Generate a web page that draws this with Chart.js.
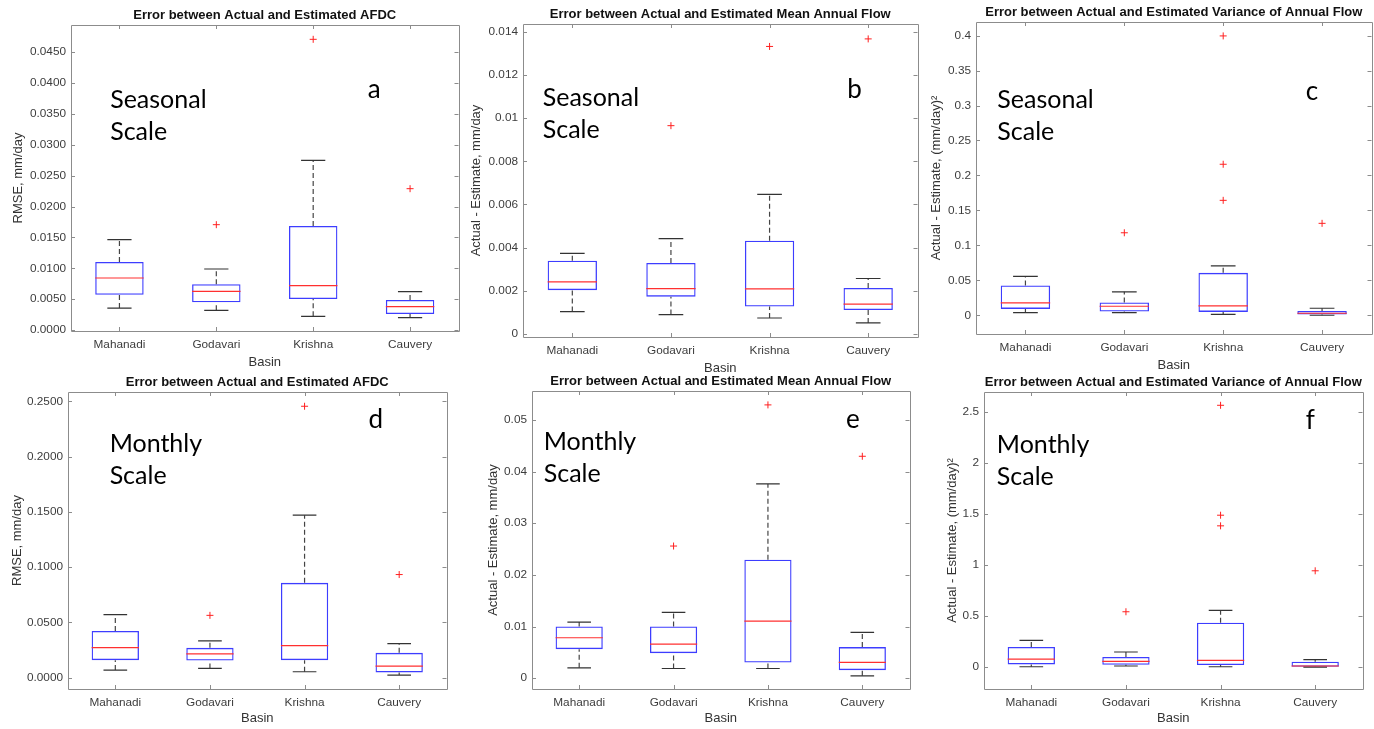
<!DOCTYPE html>
<html>
<head>
<meta charset="utf-8">
<script src="https://cdn.jsdelivr.net/npm/chart.js@4.4.1/dist/chart.umd.min.js"></script>
<style>
  html, body { margin:0; padding:0; background:#fff; overflow:hidden; width:1374px; height:729px; }
  canvas { position:absolute; }
</style>
</head>
<body>
<canvas id="pa"></canvas>
<canvas id="pb"></canvas>
<canvas id="pc"></canvas>
<canvas id="pd"></canvas>
<canvas id="pe"></canvas>
<canvas id="pf"></canvas>
<script>
// ---------------- DATA ----------------
const categories = ['Mahanadi', 'Godavari', 'Krishna', 'Cauvery'];

// (a) Seasonal AFDC RMSE
const aUpper = [0.01463, 0.00988, 0.02748, 0.00621];
const aQ3    = [0.01102, 0.00740, 0.01685, 0.00486];
const aMed   = [0.00842, 0.00626, 0.00718, 0.00378];
const aQ1    = [0.00572, 0.00448, 0.00502, 0.00259];
const aLower = [0.00356, 0.00319, 0.00221, 0.00200];
const aOut   = [[], [0.01706], [0.04708], [0.02289]];
const aTicks = [0, 0.005, 0.010, 0.015, 0.020, 0.025, 0.030, 0.035, 0.040, 0.045];
const aRange = [-0.00016, 0.0494];

// (b) Seasonal mean annual flow
const bUpper = [0.00373, 0.00442, 0.00647, 0.00257];
const bQ3    = [0.00339, 0.00329, 0.00432, 0.00213];
const bMed   = [0.00241, 0.00210, 0.00209, 0.00138];
const bQ1    = [0.00203, 0.00173, 0.00127, 0.00111];
const bLower = [0.00104, 0.00090, 0.00074, 0.00051];
const bOut   = [[], [0.00965], [0.01332], [0.01367]];
const bTicks = [0, 0.002, 0.004, 0.006, 0.008, 0.010, 0.012, 0.014];
const bRange = [-0.00014, 0.01436];

// (c) Seasonal variance of annual flow
const cUpper = [0.0555, 0.0335, 0.0707, 0.0100];
const cQ3    = [0.0425, 0.0182, 0.0607, 0.0062];
const cMed   = [0.0177, 0.0129, 0.0134, 0.0029];
const cQ1    = [0.0091, 0.0053, 0.0048, 0.0010];
const cLower = [0.0038, 0.0038, 0.0014, 0.0000];
const cOut   = [[], [0.118], [0.3996, 0.216, 0.1644], [0.1315]];
const cTicks = [0, 0.05, 0.1, 0.15, 0.2, 0.25, 0.3, 0.35, 0.4];
const cRange = [-0.0268, 0.4195];

// (d) Monthly AFDC RMSE
const dUpper = [0.0570, 0.0333, 0.1470, 0.0309];
const dQ3    = [0.0423, 0.0270, 0.0858, 0.0225];
const dMed   = [0.0273, 0.0216, 0.0291, 0.0105];
const dQ1    = [0.0159, 0.0156, 0.0159, 0.0048];
const dLower = [0.0069, 0.0084, 0.0054, 0.0024];
const dOut   = [[], [0.0564], [0.2455], [0.0933]];
const dTicks = [0, 0.05, 0.10, 0.15, 0.20, 0.25];
const dRange = [-0.0102, 0.2584];

// (e) Monthly mean annual flow
const eUpper = [0.01085, 0.01273, 0.03760, 0.00885];
const eQ3    = [0.01001, 0.01001, 0.02293, 0.00601];
const eMed   = [0.00782, 0.00659, 0.01105, 0.00304];
const eQ1    = [0.00562, 0.00484, 0.00304, 0.00155];
const eLower = [0.00200, 0.00187, 0.00187, 0.00045];
const eOut   = [[], [0.02558], [0.05291], [0.04296]];
const eTicks = [0, 0.01, 0.02, 0.03, 0.04, 0.05];
const eRange = [-0.0021, 0.0556];

// (f) Monthly variance of annual flow
const fUpper = [0.261, 0.147, 0.554, 0.072];
const fQ3    = [0.196, 0.098, 0.434, 0.052];
const fMed   = [0.078, 0.055, 0.065, 0.010];
const fQ1    = [0.026, 0.023, 0.020, 0.002];
const fLower = [0.003, 0.010, 0.003, 0.000];
const fOut   = [[], [0.541], [2.562, 1.486, 1.382], [0.942]];
const fTicks = [0, 0.5, 1, 1.5, 2, 2.5];
const fRange = [-0.215, 2.692];

const titleAFDC = 'Error between Actual and Estimated AFDC';
const titleMean = 'Error between Actual and Estimated Mean Annual Flow';
const titleVar  = 'Error between Actual and Estimated Variance of Annual Flow';
const yRMSE = 'RMSE, mm/day';
const yMean = 'Actual - Estimate, mm/day';
const yVar  = 'Actual - Estimate, (mm/day)\u00B2';
const xTitle = 'Basin';

// ---------------- LAYOUT / STYLE ----------------
const FONT = '"Liberation Sans", Arial, Helvetica, sans-serif';
const NOTE_FONT = 'Lato, "Open Sans", sans-serif';
const LEFT_SPACE = 66, TOP_SPACE = 25, BOTTOM_SPACE = 40, RIGHT_SPACE = 4;
const AXIS_TITLE_SIZE = 13, TICK_SIZE = 11.8;

const fmt4 = v => v.toFixed(4);
const fmtShort = v => String(Number(v.toFixed(6)));

const panels = [
  { id:'pa', box:[71, 25, 459, 331], yTitleX:13.3, basinOff:31,
    upper:aUpper, q3:aQ3, med:aMed, q1:aQ1, lower:aLower, out:aOut, ticks:aTicks, range:aRange, fmt:fmt4,
    title:titleAFDC, yLabel:yRMSE, note:['Seasonal','Scale'], letter:'a',
    noteX:0.101, noteY:0.272, letterX:0.766, letterY:0.24 },
  { id:'pb', box:[523, 24, 918, 337], yTitleX:19.3, basinOff:31,
    upper:bUpper, q3:bQ3, med:bMed, q1:bQ1, lower:bLower, out:bOut, ticks:bTicks, range:bRange, fmt:fmtShort,
    title:titleMean, yLabel:yMean, note:['Seasonal','Scale'], letter:'b',
    noteX:0.05, noteY:0.262, letterX:0.822, letterY:0.237 },
  { id:'pc', box:[976, 22, 1372, 334], yTitleX:26.7, basinOff:31,
    upper:cUpper, q3:cQ3, med:cMed, q1:cQ1, lower:cLower, out:cOut, ticks:cTicks, range:cRange, fmt:fmtShort,
    title:titleVar, yLabel:yVar, note:['Seasonal','Scale'], letter:'c',
    noteX:0.054, noteY:0.277, letterX:0.834, letterY:0.25 },
  { id:'pd', box:[68, 392, 447, 689], yTitleX:15.2, basinOff:29,
    upper:dUpper, q3:dQ3, med:dMed, q1:dQ1, lower:dLower, out:dOut, ticks:dTicks, range:dRange, fmt:fmt4,
    title:titleAFDC, yLabel:yRMSE, note:['Monthly','Scale'], letter:'d',
    noteX:0.11, noteY:0.203, letterX:0.794, letterY:0.12 },
  { id:'pe', box:[532, 391, 910, 689], yTitleX:27.7, basinOff:29,
    upper:eUpper, q3:eQ3, med:eMed, q1:eQ1, lower:eLower, out:eOut, ticks:eTicks, range:eRange, fmt:fmtShort,
    title:titleMean, yLabel:yMean, note:['Monthly','Scale'], letter:'e',
    noteX:0.031, noteY:0.198, letterX:0.832, letterY:0.123 },
  { id:'pf', box:[984, 392, 1363, 689], yTitleX:34, basinOff:29,
    upper:fUpper, q3:fQ3, med:fMed, q1:fQ1, lower:fLower, out:fOut, ticks:fTicks, range:fRange, fmt:fmtShort,
    title:titleVar, yLabel:yVar, note:['Monthly','Scale'], letter:'f',
    noteX:0.034, noteY:0.204, letterX:0.85, letterY:0.125 }
];

// frame, inward ticks, title and annotations (MATLAB look)
const matlabBox = {
  id: 'matlabBox',
  beforeDatasetsDraw(chart, args, opts) {
    const {ctx, chartArea:a, scales} = chart;
    ctx.save();
    ctx.strokeStyle = '#8c8c8c';
    ctx.lineWidth = 1;
    ctx.beginPath();
    ctx.rect(Math.round(a.left) + 0.5, Math.round(a.top) + 0.5,
             Math.round(a.right - a.left), Math.round(a.bottom - a.top));
    const tl = 4;
    scales.y.ticks.forEach(t => {
      const py = Math.round(scales.y.getPixelForValue(t.value)) + 0.5;
      ctx.moveTo(a.left, py); ctx.lineTo(a.left + tl, py);
      ctx.moveTo(a.right, py); ctx.lineTo(a.right - tl, py);
    });
    scales.x.ticks.forEach(t => {
      const px = Math.round(scales.x.getPixelForValue(t.value)) + 0.5;
      ctx.moveTo(px, a.bottom); ctx.lineTo(px, a.bottom - tl);
      ctx.moveTo(px, a.top); ctx.lineTo(px, a.top + tl);
    });
    ctx.stroke();
    ctx.restore();
  },
  afterDraw(chart, args, o) {
    const {ctx, chartArea:a} = chart;
    const w = a.right - a.left, h = a.bottom - a.top;
    ctx.save();
    ctx.fillStyle = '#111';
    ctx.font = 'bold 13px ' + FONT;
    ctx.textAlign = 'center';
    ctx.textBaseline = 'middle';
    ctx.fillText(o.title, (a.left + a.right) / 2, a.top - 10);
    ctx.fillStyle = '#000';
    ctx.textAlign = 'left';
    ctx.textBaseline = 'alphabetic';
    ctx.font = '25px ' + NOTE_FONT;
    o.note.forEach((line, i) => {
      ctx.fillText(line, a.left + o.noteX * w, a.top + o.noteY * h + i * 32);
    });
    ctx.font = '26px ' + NOTE_FONT;
    ctx.fillText(o.letter, a.left + o.letterX * w, a.top + o.letterY * h);
    ctx.restore();
  }
};

function buildChart(p) {
  const [L, T, R, B] = p.box;
  const cv = document.getElementById(p.id);
  const cw = R - L + LEFT_SPACE + RIGHT_SPACE;
  const ch = B - T + TOP_SPACE + BOTTOM_SPACE;
  cv.width = cw; cv.height = ch;
  cv.style.width = cw + 'px'; cv.style.height = ch + 'px';
  cv.style.left = (L - LEFT_SPACE) + 'px';
  cv.style.top = (T - TOP_SPACE) + 'px';

  const half = 0.25, cap = 0.125;
  const boxData = categories.map((c, i) => ({ x: i + 1, y: [p.q1[i], p.q3[i]] }));
  const medData = p.med.flatMap((m, i) => [
    { x: i + 1 - half, y: m }, { x: i + 1 + half, y: m }, { x: i + 1 + half, y: null }]);
  const whiskData = categories.flatMap((c, i) => [
    { x: i + 1, y: p.q3[i] }, { x: i + 1, y: p.upper[i] }, { x: i + 1, y: null },
    { x: i + 1, y: p.lower[i] }, { x: i + 1, y: p.q1[i] }, { x: i + 1, y: null }]);
  const capData = categories.flatMap((c, i) => [
    { x: i + 1 - cap, y: p.upper[i] }, { x: i + 1 + cap, y: p.upper[i] }, { x: i + 1 + cap, y: null },
    { x: i + 1 - cap, y: p.lower[i] }, { x: i + 1 + cap, y: p.lower[i] }, { x: i + 1 + cap, y: null }]);
  const outData = p.out.flatMap((arr, i) => arr.map(v => ({ x: i + 1, y: v })));

  new Chart(cv, {
    type: 'bar',
    data: {
      datasets: [
        { type: 'line', data: outData, showLine: false, pointStyle: 'cross', pointRadius: 3.5,
          pointBorderColor: '#ff2020', pointBorderWidth: 1, pointHoverRadius: 3.5 },
        { type: 'line', data: medData, borderColor: '#ff3030', borderWidth: 1.2, pointRadius: 0,
          spanGaps: false, fill: false },
        { type: 'line', data: capData, borderColor: '#333', borderWidth: 1.2, pointRadius: 0,
          spanGaps: false, fill: false },
        { type: 'line', data: whiskData, borderColor: '#444', borderWidth: 1.2, borderDash: [5, 3],
          pointRadius: 0, spanGaps: false, fill: false },
        { type: 'bar', data: boxData, backgroundColor: 'rgba(0,0,0,0)', borderColor: '#3d3dff',
          borderWidth: 1.3, borderSkipped: false, categoryPercentage: 1, barPercentage: 0.5 }
      ]
    },
    options: {
      responsive: false,
      animation: false,
      devicePixelRatio: 1,
      events: [],
      layout: { padding: { left: 0, top: TOP_SPACE, right: RIGHT_SPACE, bottom: 0 } },
      plugins: {
        legend: { display: false },
        tooltip: { enabled: false },
        matlabBox: { title: p.title, note: p.note, letter: p.letter,
          noteX: p.noteX, noteY: p.noteY, letterX: p.letterX, letterY: p.letterY }
      },
      scales: {
        x: {
          type: 'linear', min: 0.5, max: 4.5, offset: false,
          grid: { display: false, drawTicks: false }, border: { display: false },
          afterBuildTicks: s => { s.ticks = categories.map((c, i) => ({ value: i + 1 })); },
          afterFit: s => { s.height = BOTTOM_SPACE; },
          ticks: { autoSkip: false, maxRotation: 0, padding: 6.2, color: '#3c3c3c',
            font: { family: FONT, size: TICK_SIZE },
            callback: v => categories[Math.round(v) - 1] },
          title: { display: true, text: xTitle, color: '#333',
            font: { family: FONT, size: AXIS_TITLE_SIZE },
            padding: { top: 0, bottom: BOTTOM_SPACE - p.basinOff - AXIS_TITLE_SIZE * 0.6 } }
        },
        y: {
          type: 'linear', min: p.range[0], max: p.range[1],
          grid: { display: false, drawTicks: false }, border: { display: false },
          afterBuildTicks: s => { s.ticks = p.ticks.map(v => ({ value: v })); },
          afterFit: s => { s.width = LEFT_SPACE; },
          ticks: { autoSkip: false, padding: 5, color: '#3c3c3c',
            font: { family: FONT, size: TICK_SIZE }, callback: v => p.fmt(v) },
          title: { display: true, text: p.yLabel, color: '#333',
            font: { family: FONT, size: AXIS_TITLE_SIZE },
            padding: { top: p.yTitleX - AXIS_TITLE_SIZE * 0.6, bottom: 0 } }
        }
      }
    },
    plugins: [matlabBox]
  });
}

panels.forEach(buildChart);
</script>
</body>
</html>
